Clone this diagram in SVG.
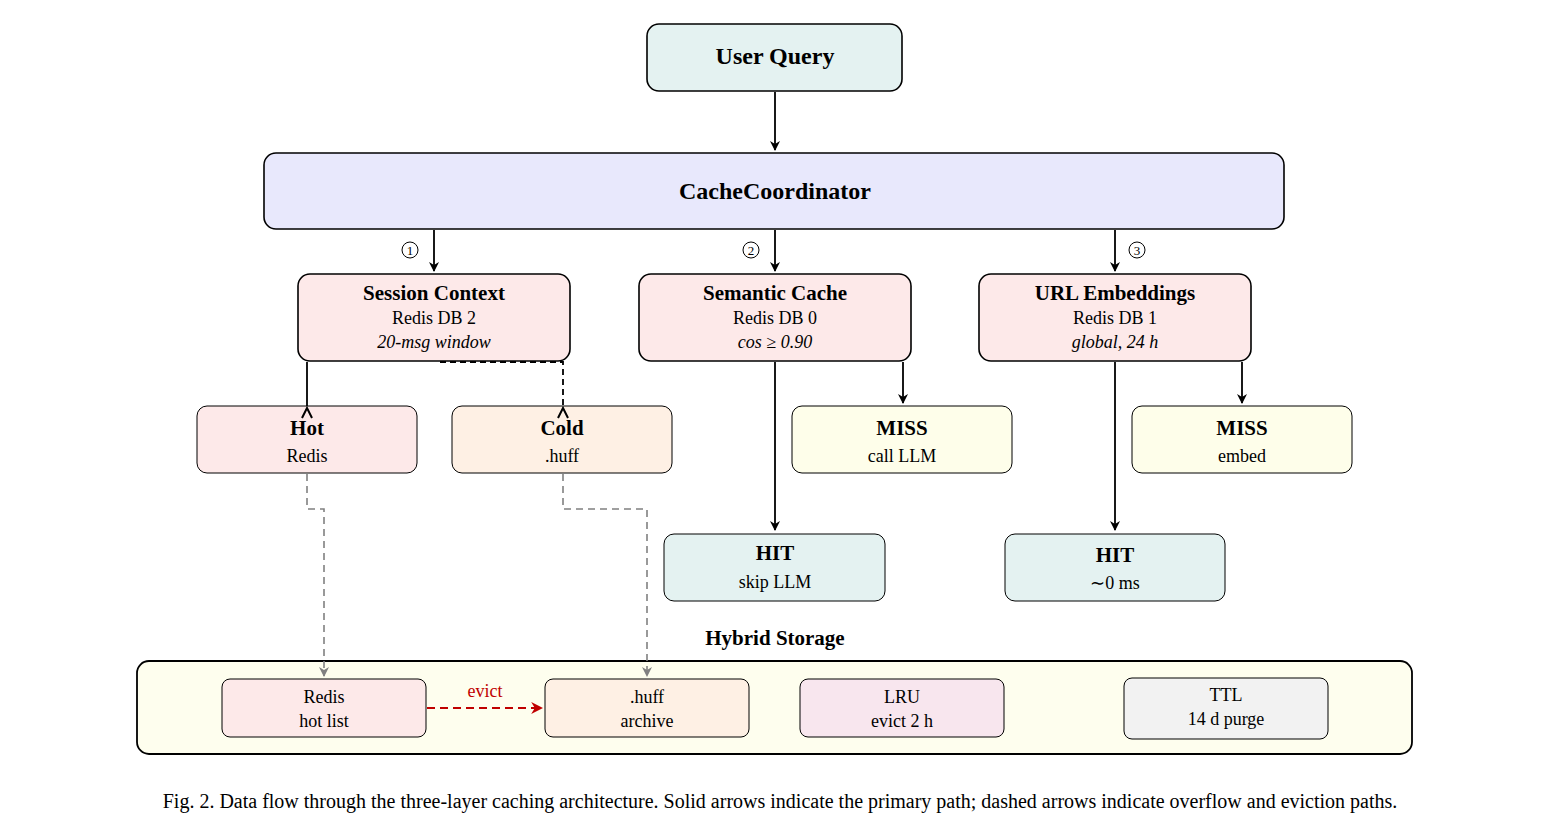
<svg xmlns="http://www.w3.org/2000/svg" width="1560" height="831" viewBox="0 0 1560 831">
<style>
text{font-family:"Liberation Serif","Times New Roman",serif;text-anchor:middle;fill:#000}
.b{font-weight:bold}
.t{font-size:24px}
.m{font-size:21px}
.s{font-size:18px}
.i{font-style:italic}
.n{stroke:#000;stroke-width:1.6}
.c{fill:none;stroke:#000;stroke-width:1.8}
.g{fill:none;stroke:#808080;stroke-width:1.6;stroke-dasharray:7,5}
</style>
<defs>
<marker id="a" viewBox="0 0 10 10" refX="9" refY="5" markerWidth="10" markerHeight="10" markerUnits="userSpaceOnUse" orient="auto"><path d="M0,0 L10,5 L0,10 L3,5z" fill="#000"/></marker>
<marker id="ag" viewBox="0 0 10 10" refX="9" refY="5" markerWidth="10" markerHeight="10" markerUnits="userSpaceOnUse" orient="auto"><path d="M0,0 L10,5 L0,10 L3,5z" fill="#808080"/></marker>
<marker id="ar" viewBox="0 0 10 10" refX="9" refY="5" markerWidth="12" markerHeight="12" markerUnits="userSpaceOnUse" orient="auto"><path d="M0,0 L10,5 L0,10 L3,5z" fill="#c00000"/></marker>
</defs>
<rect width="1560" height="831" fill="#fff"/>
<g id="storage"><rect x="137" y="661" width="1275" height="93" rx="12" fill="#fefeee" stroke="#000" stroke-width="1.8"/><text x="775" y="645" class="b m">Hybrid Storage</text></g>
<g id="connectors">
<path class="c" d="M775,92V150" marker-end="url(#a)"/>
<path class="c" d="M434,230V271" marker-end="url(#a)"/>
<path class="c" d="M775,230V271" marker-end="url(#a)"/>
<path class="c" d="M1115,230V271" marker-end="url(#a)"/>
<path class="c" d="M307,362V410"/>
<path class="c" d="M440,362H563V410" stroke-dasharray="6,4"/>
<path class="c" d="M775,362V530" marker-end="url(#a)"/>
<path class="c" d="M903,362V403" marker-end="url(#a)"/>
<path class="c" d="M1115,362V530" marker-end="url(#a)"/>
<path class="c" d="M1242,362V403" marker-end="url(#a)"/>
<path class="g" d="M307,474V509H324V676" marker-end="url(#ag)"/>
<path class="g" d="M563,474V509H647V676" marker-end="url(#ag)"/>
<path d="M427,708H542" fill="none" stroke="#c00000" stroke-width="1.8" stroke-dasharray="8,5" marker-end="url(#ar)"/>
<text x="485" y="697" class="s" style="fill:#c00000">evict</text>
<g font-size="16"><circle cx="410" cy="250" r="8" fill="none" stroke="#000"/><text x="410" y="255" style="font-size:13px">1</text>
<circle cx="751" cy="250" r="8" fill="none" stroke="#000"/><text x="751" y="255" style="font-size:13px">2</text>
<circle cx="1137" cy="250" r="8" fill="none" stroke="#000"/><text x="1137" y="255" style="font-size:13px">3</text></g>
</g>
<g id="userquery"><rect class="n" x="647" y="24" width="255" height="67" rx="12" fill="#e4f2f1"/><text x="775" y="64" class="b t">User Query</text></g>
<g id="coordinator"><rect class="n" x="264" y="153" width="1020" height="76" rx="12" fill="#e8e8fc"/><text x="775" y="199" class="b t">CacheCoordinator</text></g>
<g id="session"><rect class="n" x="298" y="274" width="272" height="87" rx="12" fill="#fde9e9"/><text x="434" y="300" class="b m">Session Context</text><text x="434" y="324" class="s">Redis DB 2</text><text x="434" y="348" class="s i">20-msg window</text></g>
<g id="semantic"><rect class="n" x="639" y="274" width="272" height="87" rx="12" fill="#fde9e9"/><text x="775" y="300" class="b m">Semantic Cache</text><text x="775" y="324" class="s">Redis DB 0</text><text x="775" y="348" class="s i">cos ≥ 0.90</text></g>
<g id="url"><rect class="n" x="979" y="274" width="272" height="87" rx="12" fill="#fde9e9"/><text x="1115" y="300" class="b m">URL Embeddings</text><text x="1115" y="324" class="s">Redis DB 1</text><text x="1115" y="348" class="s i">global, 24 h</text></g>
<g id="hot"><rect x="197" y="406" width="220" height="67" rx="10" fill="#fde9e9" stroke="#000"/><path d="M302,418L307,408L312,418" fill="none" stroke="#000" stroke-width="2"/><text x="307" y="435" class="b m">Hot</text><text x="307" y="462" class="s">Redis</text></g>
<g id="cold"><rect x="452" y="406" width="220" height="67" rx="10" fill="#fef0e4" stroke="#000"/><path d="M558,418L563,408L568,418" fill="none" stroke="#000" stroke-width="2"/><text x="562" y="435" class="b m">Cold</text><text x="562" y="462" class="s">.huff</text></g>
<g id="miss1"><rect x="792" y="406" width="220" height="67" rx="10" fill="#fefeea" stroke="#000"/><text x="902" y="435" class="b m">MISS</text><text x="902" y="462" class="s">call LLM</text></g>
<g id="miss2"><rect x="1132" y="406" width="220" height="67" rx="10" fill="#fefeea" stroke="#000"/><text x="1242" y="435" class="b m">MISS</text><text x="1242" y="462" class="s">embed</text></g>
<g id="hit1"><rect x="664" y="534" width="221" height="67" rx="10" fill="#e4f2f1" stroke="#000"/><text x="775" y="560" class="b m">HIT</text><text x="775" y="588" class="s">skip LLM</text></g>
<g id="hit2"><rect x="1005" y="534" width="220" height="67" rx="10" fill="#e4f2f1" stroke="#000"/><text x="1115" y="562" class="b m">HIT</text><text x="1115" y="589" class="s">∼0 ms</text></g>
<g id="redis"><rect x="222" y="679" width="204" height="58" rx="8" fill="#fde9e9" stroke="#000"/><text x="324" y="703" class="s">Redis</text><text x="324" y="727" class="s">hot list</text></g>
<g id="huff"><rect x="545" y="679" width="204" height="58" rx="8" fill="#fef0e4" stroke="#000"/><text x="647" y="703" class="s">.huff</text><text x="647" y="727" class="s">archive</text></g>
<g id="lru"><rect x="800" y="679" width="204" height="58" rx="8" fill="#f8e6ee" stroke="#000"/><text x="902" y="703" class="s">LRU</text><text x="902" y="727" class="s">evict 2 h</text></g>
<g id="ttl"><rect x="1124" y="678" width="204" height="61" rx="8" fill="#f2f2f2" stroke="#000"/><text x="1226" y="701" class="s">TTL</text><text x="1226" y="725" class="s">14 d purge</text></g>
<text x="780" y="808" style="font-size:20px">Fig. 2.  Data flow through the three-layer caching architecture. Solid arrows indicate the primary path; dashed arrows indicate overflow and eviction paths.</text>
</svg>
